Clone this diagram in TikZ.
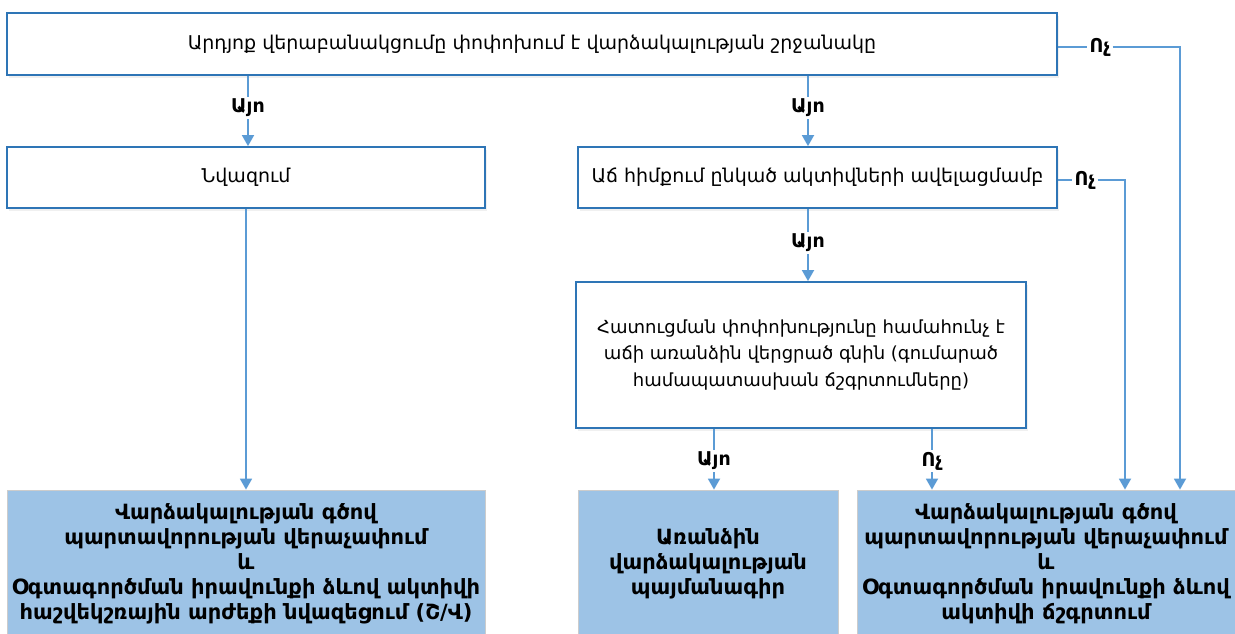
\documentclass[tikz,border=0pt]{standalone}
\usepackage{fontspec}
\setmainfont{DejaVu Sans}
\usetikzlibrary{arrows.meta,shadows}

\definecolor{frameblue}{RGB}{46,117,182}
\definecolor{flowblue}{RGB}{91,155,213}
\definecolor{resultblue}{HTML}{9DC3E6}

\tikzset{
    question/.style={draw=frameblue, line width=1.8pt, fill=white, align=center,
        font=\fontsize{19}{26}\selectfont, inner sep=0pt,
        drop shadow={opacity=0.12, shadow xshift=2pt, shadow yshift=-3pt}},
    result/.style={draw=black!20, line width=0.8pt, fill=resultblue, align=center,
        font=\fontsize{21}{25}\selectfont\bfseries, inner sep=0pt},
    answer/.style={fill=white, inner sep=2pt, font=\fontsize{19}{20}\selectfont\bfseries},
    flow/.style={draw=flowblue, line width=1.8pt},
    flowarrow/.style={flow, -{Triangle[width=12pt,length=11pt]}}
}

\begin{document}
\begin{tikzpicture}[x=1pt,y=-1pt]
        \useasboundingbox (0,0) rectangle (1235,634);

        % questions
        \node[question, minimum width=1050, minimum height=62] (scope) at (532,44)
            {Արդյոք վերաբանակցումը փոփոխում է վարձակալության շրջանակը};
        \node[question, minimum width=478, minimum height=61] (reduce) at (246,177.5)
            {Նվազում};
        \node[question, minimum width=479, minimum height=61] (added) at (817.5,177.5)
            {Աճ հիմքում ընկած ակտիվների ավելացմամբ};
        \node[question, minimum width=450, minimum height=146,
              font=\fontsize{18}{26.5}\selectfont] (price) at (801,355)
            {Հատուցման փոփոխությունը համահունչ է\\
             աճի առանձին վերցրած գնին (գումարած\\
             համապատասխան ճշգրտումները)};

        % results
        \node[result, minimum width=478, minimum height=148] (remeasure) at (246,564)
            {Վարձակալության գծով\\
             պարտավորության վերաչափում\\
             և\\
             Օգտագործման իրավունքի ձևով ակտիվի\\
             հաշվեկշռային արժեքի նվազեցում (Շ/Վ)};
        \node[result, minimum width=260, minimum height=148] (separate) at (708,564)
            {Առանձին\\
             վարձակալության\\
             պայմանագիր};
        \node[result, minimum width=378, minimum height=148] (adjust) at (1046,564)
            {Վարձակալության գծով\\
             պարտավորության վերաչափում\\
             և\\
             Օգտագործման իրավունքի ձևով\\
             ակտիվի ճշգրտում};

        % answers
        \node[answer] (yesA) at (248,108) {Այո};
        \node[answer] (yesB) at (808,108) {Այո};
        \node[answer] (noA) at (1100,47) {Ոչ};
        \node[answer] (noB) at (1085,180) {Ոչ};
        \node[answer] (yesC) at (808,243) {Այո};
        \node[answer] (yesD) at (714,461) {Այո};
        \node[answer] (noC) at (932,461) {Ոչ};

        \coordinate (inA) at (1180,0);
        \coordinate (inB) at (1125,0);

        % connectors
        \draw[flow] (scope.south -| yesA) -- (yesA);
        \draw[flowarrow] (yesA) -- (reduce.north -| yesA);
        \draw[flow] (scope.south -| yesB) -- (yesB);
        \draw[flowarrow] (yesB) -- (added.north -| yesB);
        \draw[flow] (scope.east |- noA) -- (noA);
        \draw[flowarrow] (noA) -| (adjust.north -| inA);

        \draw[flowarrow] (reduce) -- (remeasure);

        \draw[flow] (added.east |- noB) -- (noB);
        \draw[flowarrow] (noB) -| (adjust.north -| inB);
        \draw[flow] (added.south -| yesC) -- (yesC);
        \draw[flowarrow] (yesC) -- (price.north -| yesC);

        \draw[flow] (price.south -| yesD) -- (yesD);
        \draw[flowarrow] (yesD) -- (separate.north -| yesD);
        \draw[flow] (price.south -| noC) -- (noC);
        \draw[flowarrow] (noC) -- (adjust.north -| noC);
\end{tikzpicture}
\end{document}
